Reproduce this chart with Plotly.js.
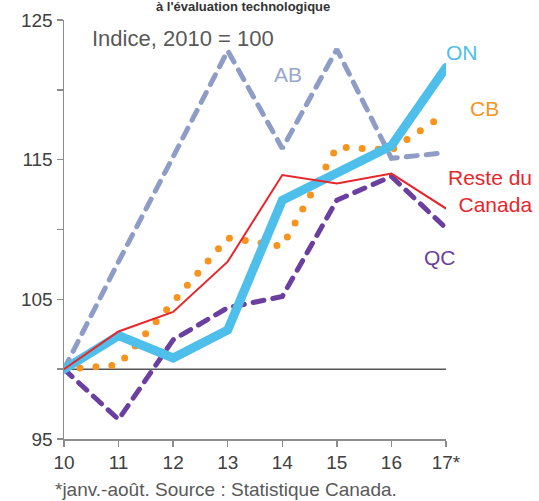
<!DOCTYPE html>
<html>
<head>
<meta charset="utf-8">
<script src="https://cdn.plot.ly/plotly-3.0.1.min.js"></script>
<style>
body { margin: 0; padding: 0; background: #fff; }
#chart { width: 539px; height: 501px; }
.scatterlayer .trace path.js-line { stroke-linecap: round; }
</style>
</head>
<body>
<div id="chart"></div>
<script>
// Data
const years = [2010, 2011, 2012, 2013, 2014, 2015, 2016, 2017];
const tickLabels = ["10", "11", "12", "13", "14", "15", "16", "17*"];
const ab = [100, 107.7, 115.2, 122.8, 115.8, 122.9, 115.1, 115.5];
const qc = [100, 96.4, 102.1, 104.4, 105.2, 112.1, 113.8, 110.1];
const resteCanada = [100, 102.7, 104.1, 107.7, 113.9, 113.3, 114.0, 111.5];
const cb = [100, 100.3, 104.8, 109.4, 108.8, 115.9, 115.7, 118.3];
const on = [100, 102.4, 100.8, 102.8, 112.1, 114.0, 116.0, 121.6];
const yTickVals = [95, 100, 105, 110, 115, 120, 125];
const yTickText = ["95", "", "105", "", "115", "", "125"];

const FONT = "Liberation Sans, Arial, sans-serif";
const cAB = "#8e9dc6", cQC = "#6b3fa0", cRC = "#e8262b", cCB = "#f7941d", cON = "#4dbfea";

const traces = [
  {x: years, y: ab, mode: "lines", name: "AB", cliponaxis: false,
   line: {color: cAB, width: 5, dash: "11px,9px"}},
  {x: years, y: qc, mode: "lines", name: "QC", cliponaxis: false,
   line: {color: cQC, width: 5, dash: "11px,9px"}},
  {x: years, y: cb, mode: "lines", name: "CB", cliponaxis: false,
   line: {color: cCB, width: 7, dash: "0px,16px"}},
  {x: years, y: on, mode: "lines", name: "ON", cliponaxis: false,
   line: {color: cON, width: 9}},
  {x: years, y: resteCanada, mode: "lines", name: "Reste du Canada", cliponaxis: false,
   line: {color: cRC, width: 2}}
];

// paper-coordinate helpers for label placement (plot area: 64..446 px, 20..439 px)
const px = v => (v - 64) / 382;
const py = v => (439 - v) / 419;

function label(text, x, y, size, color, xanchor) {
  return {text: text, xref: "paper", yref: "paper", x: px(x), y: py(y),
    xanchor: xanchor || "center", yanchor: "middle", align: xanchor === "right" ? "right" : "center",
    showarrow: false, font: {family: FONT, size: size, color: color}};
}

const layout = {
  width: 539, height: 501,
  margin: {l: 64, r: 93, t: 20, b: 62},
  paper_bgcolor: "#fff", plot_bgcolor: "#fff",
  showlegend: false,
  font: {family: FONT, size: 18, color: "#404040"},
  xaxis: {
    range: [2010, 2017], tickvals: years, ticktext: tickLabels,
    showgrid: false, zeroline: false, showline: true, linecolor: "#8c8c8c", linewidth: 1.5,
    ticks: "outside", ticklen: 6, tickcolor: "#8c8c8c", tickwidth: 1.5,
    tickfont: {family: FONT, size: 19, color: "#404040"}
  },
  yaxis: {
    range: [95, 125], tickvals: yTickVals, ticktext: yTickText,
    showgrid: false, zeroline: false, showline: true, linecolor: "#8c8c8c", linewidth: 1.5,
    ticks: "outside", ticklen: 6, tickcolor: "#8c8c8c", tickwidth: 1.5,
    tickfont: {family: FONT, size: 19, color: "#404040"}
  },
  shapes: [
    {type: "line", xref: "paper", x0: 0, x1: 1, yref: "y", y0: 100, y1: 100,
     line: {color: "#555", width: 1.5}, layer: "below"}
  ],
  annotations: [
    label("<b>à l'évaluation technologique</b>", 243, 7, 13, "#333"),
    label("Indice, 2010 = 100", 90, 38, 22, "#595959", "left"),
    label("AB", 288, 74, 21, "#9aa6cc"),
    label("ON", 462, 52, 21, cON),
    label("CB", 484, 108, 21, cCB),
    label("Reste du<br>Canada", 534, 191, 21, cRC, "right"),
    label("QC", 440, 257, 21, cQC),
    label("*janv.-août. Source : Statistique Canada.", 53, 489, 19, "#595959", "left")
  ]
};

Plotly.newPlot("chart", traces, layout, {staticPlot: true, displayModeBar: false});
</script>
</body>
</html>
